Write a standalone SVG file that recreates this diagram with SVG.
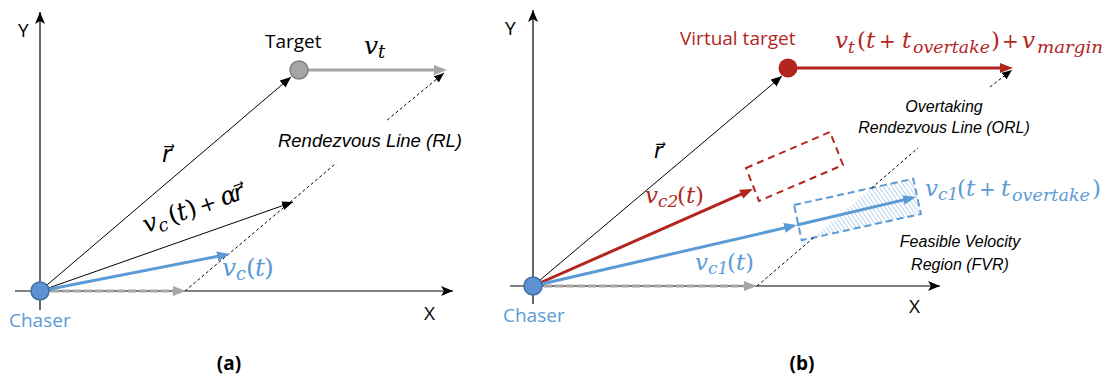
<svg xmlns="http://www.w3.org/2000/svg" width="1109" height="381" viewBox="0 0 1109 381">
<defs>
<style>
.ax{stroke:#000;stroke-width:1.2;fill:none}
.thin{stroke:#000;stroke-width:1;fill:none}
.dsh{stroke:#000;stroke-width:1;stroke-dasharray:3 2.5;fill:none}
.gray{stroke:#A6A6A6;stroke-width:3;fill:none}
.grayd{stroke:#A6A6A6;stroke-width:3;stroke-dasharray:8 3;fill:none}
.blue{stroke:#5B9BD5;stroke-width:3;fill:none}
.red{stroke:#B3261E;stroke-width:3;fill:none}
.rbox{stroke:#B3261E;stroke-width:2;stroke-dasharray:7 5;fill:none}
.bbox{stroke:#5B9BD5;stroke-width:2;stroke-dasharray:7 4;fill:none}
.t{font-family:"Open Sans","Liberation Sans",sans-serif;font-size:19px;fill:#000}
.it{font-family:"Liberation Sans","Open Sans",sans-serif;font-style:italic;fill:#000}
.m{font-family:"DejaVu Serif","Liberation Serif",serif;font-style:italic;fill:#000}
.rv{font-family:"DejaVu Sans","DejaVu Serif",sans-serif;font-style:italic;fill:#000}
.n{font-style:normal}
.cb{fill:#5B9BD5}
.cr{fill:#B3261E}
.b{font-weight:bold}
</style>
<marker id="axh" markerUnits="userSpaceOnUse" markerWidth="12" markerHeight="10" refX="12" refY="5" orient="auto"><path d="M0,0 L12,5 L0,10 L3,5 z" fill="#000"/></marker>
<marker id="bk" markerUnits="userSpaceOnUse" markerWidth="11" markerHeight="9" refX="11" refY="4.5" orient="auto"><path d="M0,0 L11,4.5 L0,9 z" fill="#000"/></marker>
<marker id="bks" markerUnits="userSpaceOnUse" markerWidth="10" markerHeight="8" refX="10" refY="4" orient="auto"><path d="M0,0 L10,4 L0,8 z" fill="#000"/></marker>
<marker id="gy" markerUnits="userSpaceOnUse" markerWidth="13" markerHeight="10" refX="7" refY="5" orient="auto"><path d="M0,0 L13,5 L0,10 z" fill="#A6A6A6"/></marker>
<marker id="bl" markerUnits="userSpaceOnUse" markerWidth="13" markerHeight="10" refX="7" refY="5" orient="auto"><path d="M0,0 L13,5 L0,10 z" fill="#5B9BD5"/></marker>
<marker id="rd" markerUnits="userSpaceOnUse" markerWidth="13" markerHeight="10" refX="7" refY="5" orient="auto"><path d="M0,0 L13,5 L0,10 z" fill="#B3261E"/></marker>
<pattern id="hatch" patternUnits="userSpaceOnUse" width="3.5" height="3.5" patternTransform="rotate(-35)"><line x1="0" y1="0" x2="0" y2="3.5" stroke="#9DC3E6" stroke-width="1.4"/></pattern>
</defs>
<rect width="1109" height="381" fill="#fff"/>

<!-- ============ Panel (a) ============ -->
<g id="axes-a">
<line class="ax" x1="40" y1="310" x2="40" y2="12" marker-end="url(#axh)"/>
<line class="ax" x1="15" y1="291" x2="453" y2="291" marker-end="url(#axh)"/>
<text class="t" x="18" y="37" font-size="16">Y</text>
<text class="t" x="424" y="320" font-size="16">X</text>
</g>

<g id="connectors-a">
<line class="dsh" x1="185" y1="291" x2="336.4" y2="163"/>
<line class="dsh" x1="387.2" y1="120" x2="444" y2="73" marker-end="url(#bks)"/>
<line class="grayd" x1="40" y1="291" x2="180" y2="291" marker-end="url(#gy)"/>
<line class="thin" x1="40" y1="291" x2="291" y2="77" marker-end="url(#bk)"/>
<line class="thin" x1="40" y1="291" x2="293" y2="202" marker-end="url(#bk)"/>
<line class="blue" x1="40" y1="291" x2="224.1" y2="255.1" marker-end="url(#bl)"/>
<line class="gray" x1="308" y1="70" x2="441" y2="70" marker-end="url(#gy)"/>
</g>

<g id="target-a">
<circle cx="299" cy="70" r="9" fill="#A6A6A6" stroke="#7F7F7F" stroke-width="1.5"/>
<text class="t" x="265" y="48">Target</text>
</g>

<g id="chaser-a">
<circle cx="40" cy="291" r="9" fill="#5E92D3" stroke="#3F6FA8" stroke-width="1.5"/>
<text class="t cb" x="9" y="327">Chaser</text>
</g>

<g id="labels-a">
<text class="it" x="370" y="147" font-size="18.5" text-anchor="middle">Rendezvous Line (RL)</text>
<text class="m" font-size="25"><tspan x="364" y="54">v</tspan><tspan x="378" y="58" font-size="18">t</tspan></text>
<text class="rv" font-size="23" x="162" y="162">r&#x20D7;</text>
<text class="m" font-size="25" transform="rotate(-19.5 147 233)"><tspan x="146" y="233">v</tspan><tspan x="160" y="237" font-size="18">c</tspan><tspan x="173" y="233" class="n">(</tspan><tspan x="182" y="233">t</tspan><tspan x="192" y="233" class="n">)</tspan><tspan x="205" y="233" class="n" font-size="21">+</tspan><tspan x="228" y="233">α</tspan><tspan x="242" y="233" class="rv" font-size="23">r&#x20D7;</tspan></text>
<text class="m cb" font-size="25"><tspan x="222" y="276">v</tspan><tspan x="236" y="280" font-size="18">c</tspan><tspan x="246" y="276" class="n">(</tspan><tspan x="255" y="276">t</tspan><tspan x="264" y="276" class="n">)</tspan></text>
<text class="t b" x="229" y="370" font-size="20" text-anchor="middle">(a)</text>
</g>

<!-- ============ Panel (b) ============ -->
<g id="axes-b">
<line class="ax" x1="533" y1="304" x2="533" y2="10" marker-end="url(#axh)"/>
<line class="ax" x1="510" y1="286" x2="940" y2="286" marker-end="url(#axh)"/>
<text class="t" x="505" y="35" font-size="16">Y</text>
<text class="t" x="909" y="313" font-size="16">X</text>
</g>

<g id="fvr">
<polygon points="813.7,237.6 871.5,188.1 913.2,178.8 920.9,214" fill="url(#hatch)"/>
<polygon class="bbox" points="794,205 913.2,178.8 920.9,214 801.7,240.2"/>
</g>

<g id="red-region">
<polygon class="rbox" points="746,168 830,132 843,165 759,201"/>
</g>

<g id="connectors-b">
<line class="dsh" x1="757" y1="286" x2="813.7" y2="237.6"/>
<line class="dsh" x1="871.5" y1="188.1" x2="918" y2="148"/>
<line class="dsh" x1="990" y1="87" x2="1012" y2="70" marker-end="url(#bks)"/>
<line class="grayd" x1="533" y1="286" x2="751" y2="286" marker-end="url(#gy)"/>
<line class="thin" x1="533" y1="286" x2="782" y2="76" marker-end="url(#bk)"/>
<line class="red" x1="533" y1="286" x2="747.5" y2="191.4" marker-end="url(#rd)"/>
<line class="blue" x1="533" y1="286" x2="791.2" y2="226.4" marker-end="url(#bl)"/>
<line class="blue" x1="797" y1="225" x2="910.2" y2="198.4" marker-end="url(#bl)"/>
<line class="red" x1="797" y1="68" x2="1007" y2="68" marker-end="url(#rd)"/>
</g>

<g id="virtual-target-b">
<circle cx="788" cy="68" r="9.5" fill="#B3261E"/>
<text class="t cr" x="680" y="45">Virtual target</text>
</g>

<g id="chaser-b">
<circle cx="533" cy="286" r="9" fill="#5E92D3" stroke="#3F6FA8" stroke-width="1.5"/>
<text class="t cb" x="503" y="322">Chaser</text>
</g>

<g id="labels-b">
<text class="it" x="944" y="112" font-size="16" text-anchor="middle">Overtaking</text>
<text class="it" x="944" y="133" font-size="16" text-anchor="middle">Rendezvous Line (ORL)</text>
<text class="it" x="960" y="247" font-size="16" text-anchor="middle">Feasible Velocity</text>
<text class="it" x="960" y="270" font-size="16" text-anchor="middle">Region (FVR)</text>
<text class="rv" font-size="21" x="654" y="158">r&#x20D7;</text>
<text class="m cr" font-size="23"><tspan x="835" y="48">v</tspan><tspan x="848" y="53" font-size="17">t</tspan><tspan x="857" y="48" class="n">(</tspan><tspan x="866" y="48">t</tspan><tspan x="879" y="48" class="n" font-size="20">+</tspan><tspan x="902" y="48">t</tspan><tspan x="913" y="53" font-size="17" textLength="77" lengthAdjust="spacingAndGlyphs">overtake</tspan><tspan x="991" y="48" class="n">)</tspan><tspan x="1002" y="48" class="n" font-size="20">+</tspan><tspan x="1022" y="48">v</tspan><tspan x="1037" y="53" font-size="17" textLength="66" lengthAdjust="spacingAndGlyphs">margin</tspan></text>
<text class="m cr" font-size="23"><tspan x="645" y="203">v</tspan><tspan x="658" y="207" font-size="17">c2</tspan><tspan x="677" y="203" class="n">(</tspan><tspan x="686" y="203">t</tspan><tspan x="695" y="203" class="n">)</tspan></text>
<text class="m cb" font-size="23"><tspan x="695" y="270">v</tspan><tspan x="708" y="274" font-size="17">c1</tspan><tspan x="727" y="270" class="n">(</tspan><tspan x="736" y="270">t</tspan><tspan x="745" y="270" class="n">)</tspan></text>
<text class="m cb" font-size="23"><tspan x="925" y="196">v</tspan><tspan x="938" y="200" font-size="17">c1</tspan><tspan x="957" y="196" class="n">(</tspan><tspan x="966" y="196">t</tspan><tspan x="979" y="196" class="n" font-size="20">+</tspan><tspan x="1001" y="196">t</tspan><tspan x="1012" y="201" font-size="17" textLength="78" lengthAdjust="spacingAndGlyphs">overtake</tspan><tspan x="1092" y="196" class="n">)</tspan></text>
<text class="t b" x="802" y="370" font-size="20" text-anchor="middle">(b)</text>
</g>
</svg>
